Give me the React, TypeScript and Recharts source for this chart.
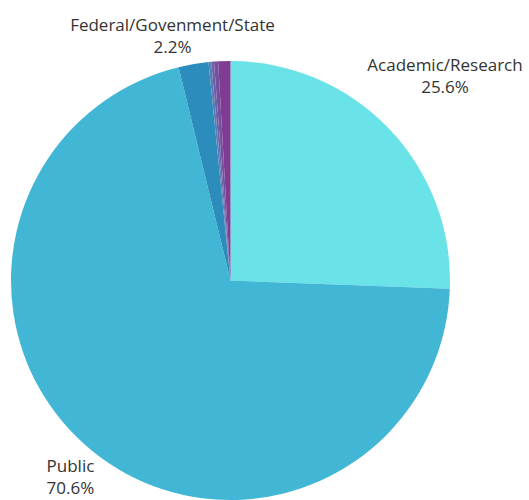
import React from "react";
import { PieChart, Pie, Cell } from "recharts";

const categories = ["Academic/Research", "Public", "Federal/Govenment/State", "Other A", "Other B", "Other C", "Other D"];
const shares = [25.6, 70.6, 2.2, 0.2, 0.2, 0.3, 0.9];
const colors = ["#69e3e8", "#42b7d5", "#2c8dbd", "#5b7db3", "#6c62a6", "#7650a0", "#7e3d92"];
const labelled = ["Academic/Research", "Public", "Federal/Govenment/State"];
const labelDist: Record<string, number> = { "Academic/Research": 292, "Public": 258, "Federal/Govenment/State": 245.5 };
const labelAngleNudge: Record<string, number> = { "Academic/Research": -1.2, "Public": 0.9, "Federal/Govenment/State": 3.95 };

const data = categories.map((name, i) => ({ name, value: shares[i] }));

const RAD = Math.PI / 180;

const renderLabel = (props: any) => {
  const { cx, cy, midAngle, name, value } = props;
  if (!labelled.includes(name)) return null;
  const ang = (midAngle + labelAngleNudge[name]) * RAD;
  const d = labelDist[name];
  const x = cx + d * Math.cos(ang);
  const y = cy - d * Math.sin(ang);
  return (
    <text textAnchor="middle" fill="#333" fontSize={17} fontFamily="'Open Sans', sans-serif">
      <tspan x={x} y={y - 11}>{name}</tspan>
      <tspan x={x} y={y + 11}>{value.toFixed(1)}%</tspan>
    </text>
  );
};

export default function App() {
  return (
    <div style={{ position: "absolute", left: 0, top: 0, width: 529, height: 500, background: "#fff" }}>
      <PieChart width={529} height={500} margin={{ top: 0, right: 0, bottom: 0, left: 0 }}>
        <Pie
          data={data}
          dataKey="value"
          nameKey="name"
          cx={230.5}
          cy={280.5}
          outerRadius={219.5}
          startAngle={90}
          endAngle={-270}
          stroke="none"
          label={renderLabel}
          labelLine={false}
          isAnimationActive={false}
        >
          {data.map((d, i) => (
            <Cell key={d.name} fill={colors[i]} />
          ))}
        </Pie>
      </PieChart>
    </div>
  );
}
